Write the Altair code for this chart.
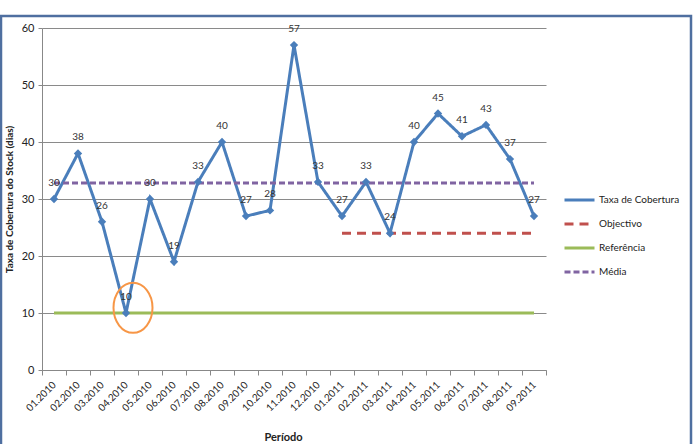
import altair as alt
import pandas as pd

periods = ["01.2010", "02.2010", "03.2010", "04.2010", "05.2010", "06.2010", "07.2010",
           "08.2010", "09.2010", "10.2010", "11.2010", "12.2010", "01.2011", "02.2011",
           "03.2011", "04.2011", "05.2011", "06.2011", "07.2011", "08.2011", "09.2011"]
taxa = [30, 38, 26, 10, 30, 19, 33, 40, 27, 28, 57, 33, 27, 33, 24, 40, 45, 41, 43, 37, 27]
objectivo_value = 24
objectivo_start = "01.2011"
referencia_value = 10
media_value = 32.8
highlight_period = "04.2010"
highlight_value = 10.9

series_names = ["Taxa de Cobertura", "Objectivo", "Referência", "Média"]
series_colors = ["#4A7EBB", "#C0504D", "#9BBB59", "#8064A2"]
series_dash = [[1, 0], [9, 6], [1, 0], [6, 3]]

rows = []
for p, v in zip(periods, taxa):
    rows.append({"period": p, "value": v, "series": "Taxa de Cobertura"})
start = periods.index(objectivo_start)
for p in periods[start:]:
    rows.append({"period": p, "value": objectivo_value, "series": "Objectivo"})
for p in periods:
    rows.append({"period": p, "value": referencia_value, "series": "Referência"})
for p in periods:
    rows.append({"period": p, "value": media_value, "series": "Média"})
df = pd.DataFrame(rows)
df_taxa = df[df.series == "Taxa de Cobertura"]

W, H = 504, 342
FONT = "Lato"

x_enc = alt.X("period:N", sort=periods,
              scale=alt.Scale(domain=periods, paddingInner=0, paddingOuter=0),
              axis=alt.Axis(title="Período", labelAngle=-45, labelAlign="right",
                            labelBaseline="middle", labelPadding=8, tickBand="extent",
                            tickSize=5, tickColor="#888888", domainColor="#888888",
                            labelFontSize=10, labelColor="#222222", grid=False,
                            titleFontSize=11, titleFontWeight="bold", titleColor="#222222",
                            titleX=241, titleY=67, titleBaseline="middle", labelFont=FONT,
                            titleFont=FONT))
y_enc = alt.Y("value:Q", scale=alt.Scale(domain=[0, 60], nice=False),
              axis=alt.Axis(title="Taxa de Cobertura do Stock (dias)",
                            values=[0, 10, 20, 30, 40, 50, 60], grid=True,
                            gridColor="#8a8a8a", gridWidth=1, domainColor="#888888",
                            tickColor="#888888", tickSize=4, labelFontSize=11,
                            labelColor="#222222", labelPadding=4, titleFontSize=10,
                            titleFontWeight="bold", titleColor="#222222", titlePadding=7,
                            labelFont=FONT, titleFont=FONT))

color_enc = alt.Color("series:N", title=None,
                      scale=alt.Scale(domain=series_names, range=series_colors))
dash_enc = alt.StrokeDash("series:N", title=None,
                          scale=alt.Scale(domain=series_names, range=series_dash))

lines = alt.Chart(df).mark_line(strokeWidth=3).encode(
    x=x_enc, y=y_enc, color=color_enc, strokeDash=dash_enc,
    order=alt.Order("series:N"))

points = alt.Chart(df_taxa).mark_point(shape="diamond", filled=True, size=70,
                                       color="#4A7EBB", opacity=1).encode(
    x=alt.X("period:N", sort=periods), y="value:Q")

labels = alt.Chart(df_taxa).mark_text(dy=-16, fontSize=10, color="#333333",
                                      font=FONT).encode(
    x=alt.X("period:N", sort=periods), y="value:Q", text="value:Q")

hl = pd.DataFrame({"period": [highlight_period], "value": [highlight_value]})
ellipse = alt.Chart(hl).mark_point(
    shape="M -0.78,0 A 0.78,1 0 1,0 0.78,0 A 0.78,1 0 1,0 -0.78,0 Z",
    size=2500, filled=False, stroke="#F79646", strokeWidth=2, opacity=1,
    xOffset=7).encode(x=alt.X("period:N", sort=periods), y="value:Q")

frame = alt.Chart(hl).mark_rect(fill=None, stroke="#4F6FA0", strokeWidth=2.5,
                                clip=False).encode(
    x=alt.value(-41), x2=alt.value(649), y=alt.value(-12), y2=alt.value(430))

chart = alt.layer(frame, lines, points, labels, ellipse).properties(
    width=W, height=H,
    autosize=alt.AutoSizeParams(type="none"),
    padding={"left": 42, "top": 28, "right": 147, "bottom": 74},
    background="white",
).configure_view(stroke=None).configure_legend(
    orient="none", legendX=521, legendY=162, symbolType="stroke", symbolSize=900,
    symbolStrokeWidth=3, rowPadding=4, clipHeight=20, labelFontSize=10, labelFont=FONT,
    labelColor="#222222", labelOffset=3, labelLimit=200, symbolOpacity=1,
)

chart.save("out.html", embed_options={"renderer": "svg", "actions": False})
